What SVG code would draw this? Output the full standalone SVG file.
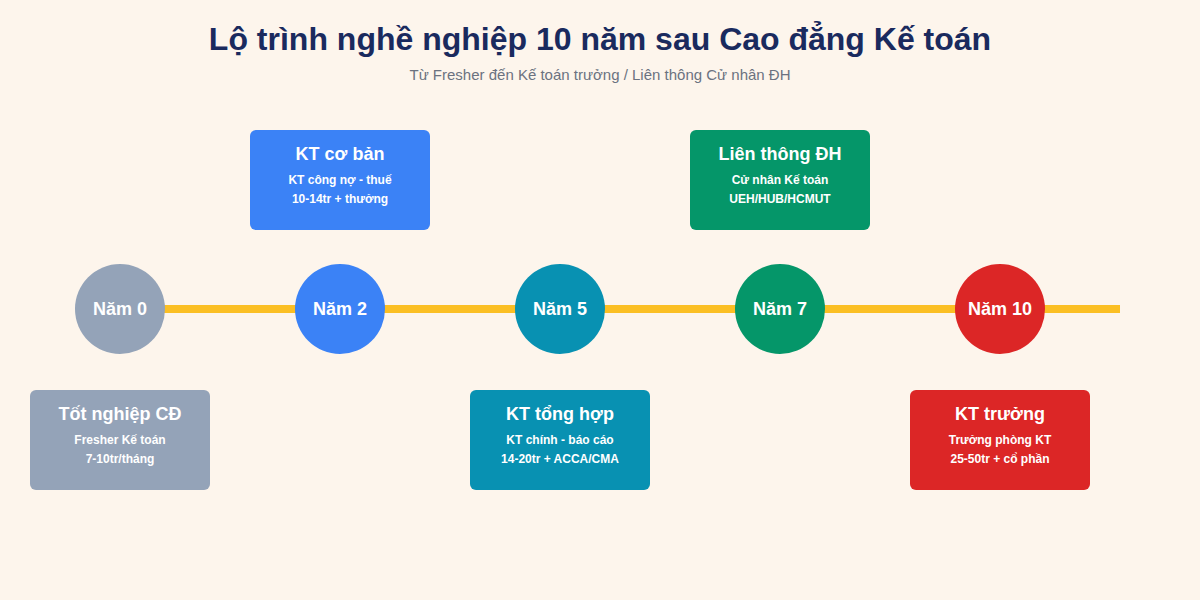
<svg xmlns="http://www.w3.org/2000/svg" width="1200" height="600" viewBox="0 0 1200 600">
<style>
text{font-family:"Liberation Sans",Arial,sans-serif;text-anchor:middle}
.t{font-size:32px;font-weight:bold;fill:#1a2a5e}
.s{font-size:15px;fill:#6b7280}
.c{font-size:18px;font-weight:bold;fill:#fff}
.h{font-size:18px;font-weight:bold;fill:#fff}
.d{font-size:12px;font-weight:bold;fill:#fff}
</style>
<rect width="1200" height="600" fill="#fdf5ec"/>
<text class="t" x="600" y="50">Lộ trình nghề nghiệp 10 năm sau Cao đẳng Kế toán</text>
<text class="s" x="600" y="80">Từ Fresher đến Kế toán trưởng / Liên thông Cử nhân ĐH</text>
<g id="connectors"><line x1="120" y1="309" x2="1120" y2="309" stroke="#fbbf24" stroke-width="8"/></g>
<g id="n0"><circle cx="120" cy="309" r="45" fill="#94a3b8"/><text class="c" x="120" y="315">Năm 0</text>
<rect x="30" y="390" width="180" height="100" rx="6" fill="#94a3b8"/><text class="h" x="120" y="420">Tốt nghiệp CĐ</text><text class="d" x="120" y="444">Fresher Kế toán</text><text class="d" x="120" y="463">7-10tr/tháng</text></g>
<g id="n2"><circle cx="340" cy="309" r="45" fill="#3b82f6"/><text class="c" x="340" y="315">Năm 2</text>
<rect x="250" y="130" width="180" height="100" rx="6" fill="#3b82f6"/><text class="h" x="340" y="160">KT cơ bản</text><text class="d" x="340" y="184">KT công nợ - thuế</text><text class="d" x="340" y="203">10-14tr + thưởng</text></g>
<g id="n5"><circle cx="560" cy="309" r="45" fill="#0891b2"/><text class="c" x="560" y="315">Năm 5</text>
<rect x="470" y="390" width="180" height="100" rx="6" fill="#0891b2"/><text class="h" x="560" y="420">KT tổng hợp</text><text class="d" x="560" y="444">KT chính - báo cáo</text><text class="d" x="560" y="463">14-20tr + ACCA/CMA</text></g>
<g id="n7"><circle cx="780" cy="309" r="45" fill="#059669"/><text class="c" x="780" y="315">Năm 7</text>
<rect x="690" y="130" width="180" height="100" rx="6" fill="#059669"/><text class="h" x="780" y="160">Liên thông ĐH</text><text class="d" x="780" y="184">Cử nhân Kế toán</text><text class="d" x="780" y="203">UEH/HUB/HCMUT</text></g>
<g id="n10"><circle cx="1000" cy="309" r="45" fill="#dc2626"/><text class="c" x="1000" y="315">Năm 10</text>
<rect x="910" y="390" width="180" height="100" rx="6" fill="#dc2626"/><text class="h" x="1000" y="420">KT trưởng</text><text class="d" x="1000" y="444">Trưởng phòng KT</text><text class="d" x="1000" y="463">25-50tr + cổ phần</text></g>
</svg>
